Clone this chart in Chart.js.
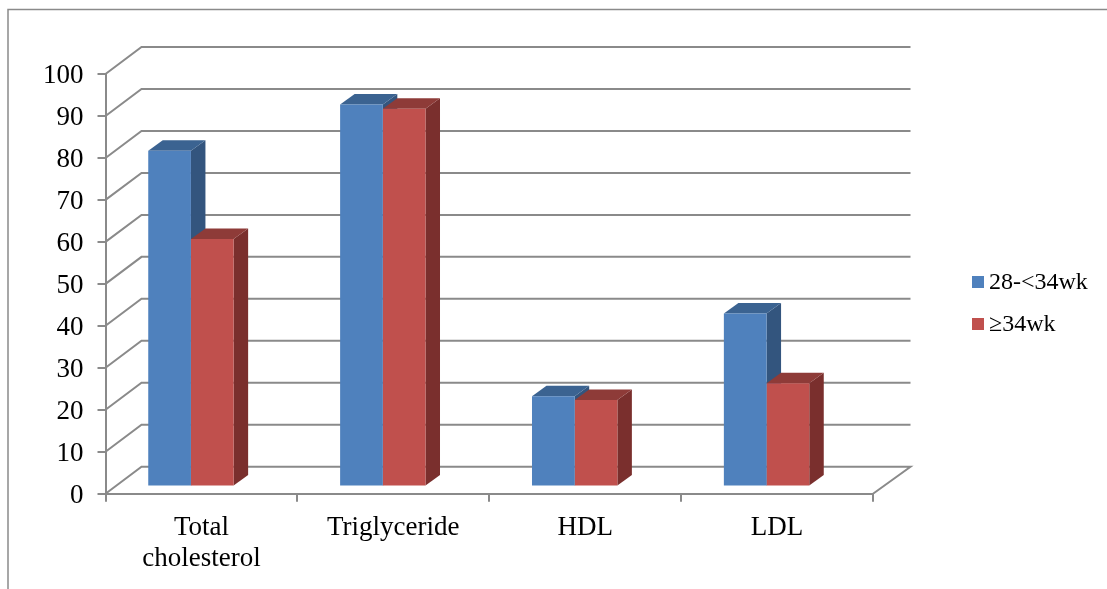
<!DOCTYPE html>
<html>
<head>
<meta charset="utf-8">
<style>
  body { margin: 0; background: #fff; }
  #wrap { position: relative; width: 1107px; height: 589px; overflow: hidden; }
  canvas { position: absolute; left: 0; top: 0; }
  #legend { position: absolute; left: 972px; top: 260px; font: 24px "Liberation Serif", serif; color: #000; }
  #legend div { height: 42px; line-height: 42px; white-space: nowrap; }
  #legend i { display: inline-block; width: 12px; height: 12px; margin-right: 5px; position: relative; top: -1px; }
</style>
<script src="https://cdn.jsdelivr.net/npm/chart.js@4"></script>
</head>
<body>
<div id="wrap">
  <canvas id="chart" width="1107" height="589"></canvas>
  <div id="legend"></div>
</div>
<script>
const categories = [['Total', 'cholesterol'], 'Triglyceride', 'HDL', 'LDL'];
const seriesNames = ['28-<34wk', '≥34wk'];
const preterm = [80, 91, 21.5, 41.2];
const term = [59, 90, 20.6, 24.6];
const yTicks = [0, 10, 20, 30, 40, 50, 60, 70, 80, 90, 100];

const frontColors = ['#4f81bd', '#c0504d'];
const topColors = ['#3b6391', '#8e3b38'];
const sideColors = ['#33557e', '#7a2f2d'];
const lineColor = '#8a8a8a';

// fake 3D offsets
const wallDepth = { x: 36, y: -27 };
const barDepth = { x: 14.5, y: -10.5 };
const barShift = { x: -10.5, y: -7.2 };

function poly(ctx, pts, color) {
    ctx.fillStyle = color;
    ctx.beginPath();
    pts.forEach((p, i) => i ? ctx.lineTo(p[0], p[1]) : ctx.moveTo(p[0], p[1]));
    ctx.closePath();
    ctx.fill();
}

const box3d = {
    id: 'box3d',
    beforeDraw(chart) {
        const ctx = chart.ctx;
        const { left, right } = chart.chartArea;
        const yScale = chart.scales.y;
        ctx.save();
        // outer frame
        ctx.strokeStyle = lineColor;
        ctx.lineWidth = 1.5;
        ctx.beginPath();
        ctx.moveTo(8, 589);
        ctx.lineTo(8, 9.5);
        ctx.lineTo(1107, 9.5);
        ctx.stroke();
        // side wall + back wall gridlines
        ctx.lineWidth = 2;
        yTicks.forEach(v => {
            const y = yScale.getPixelForValue(v);
            ctx.beginPath();
            ctx.moveTo(left, y);
            ctx.lineTo(left + wallDepth.x, y + wallDepth.y);
            ctx.lineTo(right + wallDepth.x + 1.5, y + wallDepth.y);
            if (v === 0) ctx.lineTo(right, y);
            ctx.stroke();
        });
        ctx.restore();
    },
    beforeDatasetsDraw(chart) {
        const ctx = chart.ctx;
        ctx.save();
        ctx.translate(barShift.x, barShift.y);
        // side and top faces first, the front faces go over them
        chart.data.datasets.forEach((ds, i) => {
            chart.getDatasetMeta(i).data.forEach(bar => {
                const l = bar.x - bar.width / 2;
                const r = bar.x + bar.width / 2;
                const dx = barDepth.x;
                const dy = barDepth.y;
                poly(ctx, [[r, bar.y], [r + dx, bar.y + dy], [r + dx, bar.base + dy], [r, bar.base]], sideColors[i]);
                poly(ctx, [[l, bar.y], [l + dx, bar.y + dy], [r + dx, bar.y + dy], [r, bar.y]], topColors[i]);
            });
        });
    },
    afterDatasetsDraw(chart) {
        chart.ctx.restore();
    }
};

new Chart(document.getElementById('chart'), {
    type: 'bar',
    data: {
        labels: categories,
        datasets: [
            { label: seriesNames[0], data: preterm, backgroundColor: frontColors[0] },
            { label: seriesNames[1], data: term, backgroundColor: frontColors[1] }
        ]
    },
    options: {
        responsive: false,
        animation: false,
        clip: false,
        categoryPercentage: 0.445,
        barPercentage: 1,
        layout: { padding: { left: 0, top: 74, right: 234, bottom: 0 } },
        plugins: {
            legend: { display: false },
            tooltip: { enabled: false }
        },
        scales: {
            x: {
                afterFit: s => { s.height = 95.3; },
                border: { color: lineColor, width: 2 },
                grid: { drawOnChartArea: false, color: lineColor, tickLength: 8, lineWidth: 2 },
                ticks: {
                    color: '#000',
                    padding: 11,
                    maxRotation: 0,
                    autoSkip: false,
                    font: { family: '"Liberation Serif"', size: 27, lineHeight: 1.15 }
                }
            },
            y: {
                min: 0,
                max: 100,
                afterFit: s => { s.width = 105.5; },
                afterBuildTicks: s => { s.ticks = yTicks.map(v => ({ value: v })); },
                border: { color: lineColor, width: 2 },
                grid: { drawOnChartArea: false, color: lineColor, tickLength: 8, lineWidth: 2 },
                ticks: {
                    color: '#000',
                    padding: 14,
                    labelOffset: 2,
                    font: { family: '"Liberation Serif"', size: 27 }
                }
            }
        }
    },
    plugins: [box3d]
});

// legend sits right of the plot, kept out of the chart layout
document.getElementById('legend').innerHTML = seriesNames.map((name, i) =>
    '<div><i style="background:' + frontColors[i] + '"></i><span></span></div>').join('');
document.querySelectorAll('#legend span').forEach((el, i) => { el.textContent = seriesNames[i]; });
</script>
</body>
</html>
